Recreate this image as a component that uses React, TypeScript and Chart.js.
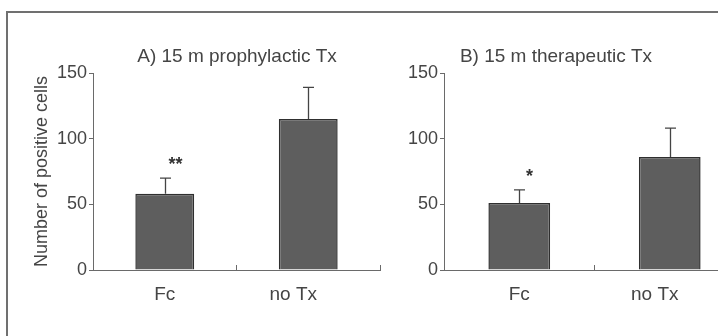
import { useEffect, useRef } from "react";
import { Chart, registerables } from "chart.js";

Chart.register(...registerables);

// ---- data ----
const categories = ["Fc", "no Tx"];
const titleA = "A) 15 m prophylactic Tx";
const titleB = "B) 15 m therapeutic Tx";
const yAxisTitle = "Number of positive cells";
const meanA = [58, 115];
const errA = [12, 24];
const sigA = ["**", ""];
const meanB = [51, 86];
const errB = [10, 22];
const sigB = ["*", ""];
const yTicks = [0, 50, 100, 150];

const FONT = "'Liberation Sans', Arial, Helvetica, sans-serif";
const TEXT = "#454545";
const AXIS = "#6a6a6a";

const decorPlugin = {
  id: "panelDecor",
  afterDatasetsDraw(chart: any, _args: any, opts: any) {
    const ctx = chart.ctx;
    const xs = chart.scales.x;
    const ys = chart.scales.y;
    const area = chart.chartArea;
    const meta = chart.getDatasetMeta(0);
    const data = chart.data.datasets[0].data as number[];
    ctx.save();
    meta.data.forEach((bar: any, i: number) => {
      const base = ys.getPixelForValue(data[i]);
      const top = ys.getPixelForValue(data[i] + opts.errors[i]);
      const cx = Math.round(bar.x) + 0.5;
      ctx.strokeStyle = "#444";
      ctx.lineWidth = 1.3;
      ctx.beginPath();
      ctx.moveTo(cx, base);
      ctx.lineTo(cx, top);
      ctx.moveTo(cx - 5.5, top);
      ctx.lineTo(cx + 5.5, top);
      ctx.stroke();
      const s = opts.sig[i];
      if (s) {
        ctx.fillStyle = "#333";
        ctx.font = `bold 18px ${FONT}`;
        ctx.textAlign = "center";
        ctx.textBaseline = "middle";
        ctx.fillText(s, cx + 10, top - 13);
      }
    });
    // category labels
    ctx.fillStyle = TEXT;
    ctx.font = `19px ${FONT}`;
    ctx.textAlign = "center";
    ctx.textBaseline = "middle";
    categories.forEach((c, i) => {
      ctx.fillText(c, xs.getPixelForValue(i) + opts.labelDx[i], area.bottom + 25);
    });
    // panel title
    ctx.font = `19px ${FONT}`;
    ctx.fillText(opts.title, area.left + opts.titleDx, area.top - 16);
    ctx.restore();
  },
};

function makeConfig(
  values: number[],
  errors: number[],
  sig: string[],
  title: string,
  titleDx: number,
  showYTitle: boolean,
  padLeft: number,
  yWidth: number,
  padRight: number
): any {
  return {
    type: "bar",
    data: {
      labels: categories,
      datasets: [
        {
          data: values,
          backgroundColor: "#5e5e5e",
          borderColor: "#2f2f2f",
          borderWidth: 1.5,
          barPercentage: 0.41,
          categoryPercentage: 1,
        },
      ],
    },
    options: {
      responsive: false,
      animation: false,
      devicePixelRatio: 1,
      layout: { padding: { top: 73, left: padLeft, right: padRight, bottom: 0 } },
      plugins: {
        legend: { display: false },
        title: { display: false },
        tooltip: { enabled: false },
        panelDecor: {
          errors,
          sig,
          title,
          titleDx,
          labelDx: [0, -15],
        },
      },
      scales: {
        x: {
          offset: true,
          grid: {
            display: true,
            offset: true,
            drawOnChartArea: false,
            drawTicks: true,
            tickLength: -5,
            color: AXIS,
            lineWidth: 1,
          },
          border: { display: true, color: AXIS, width: 1 },
          ticks: { display: false },
          afterFit: (s: any) => {
            s.height = 66;
          },
        },
        y: {
          min: 0,
          max: 150,
          afterBuildTicks: (s: any) => {
            s.ticks = yTicks.map((v) => ({ value: v }));
          },
          grid: {
            display: true,
            drawOnChartArea: false,
            drawTicks: true,
            tickLength: 4,
            color: AXIS,
            lineWidth: 1,
          },
          border: { display: true, color: AXIS, width: 1 },
          ticks: {
            color: TEXT,
            font: { family: FONT, size: 18 },
            padding: 2,
          },
          title: {
            display: showYTitle,
            text: yAxisTitle,
            color: TEXT,
            font: { family: FONT, size: 18 },
            padding: 0,
          },
          afterFit: (s: any) => {
            s.width = yWidth;
          },
        },
      },
    },
    plugins: [decorPlugin],
  };
}

export default function App() {
  const refA = useRef<HTMLCanvasElement>(null);
  const refB = useRef<HTMLCanvasElement>(null);

  useEffect(() => {
    const a = new Chart(
      refA.current as HTMLCanvasElement,
      makeConfig(meanA, errA, sigA, titleA, 144, true, 31, 62, 5)
    );
    const b = new Chart(
      refB.current as HTMLCanvasElement,
      makeConfig(meanB, errB, sigB, titleB, 112, false, 0, 59, 5)
    );
    return () => {
      a.destroy();
      b.destroy();
    };
  }, []);

  return (
    <div
      style={{
        position: "fixed",
        left: 0,
        top: 0,
        width: 718,
        height: 336,
        overflow: "hidden",
        background: "#ffffff",
      }}
    >
      <div
        style={{
          position: "absolute",
          left: 6,
          top: 11,
          width: 800,
          height: 400,
          borderLeft: "2px solid #707070",
          borderTop: "2px solid #707070",
        }}
      />
      <canvas
        ref={refA}
        width={385}
        height={336}
        style={{ position: "absolute", left: 0, top: 0, width: 385, height: 336 }}
      />
      <canvas
        ref={refB}
        width={365}
        height={336}
        style={{ position: "absolute", left: 385, top: 0, width: 365, height: 336 }}
      />
    </div>
  );
}
